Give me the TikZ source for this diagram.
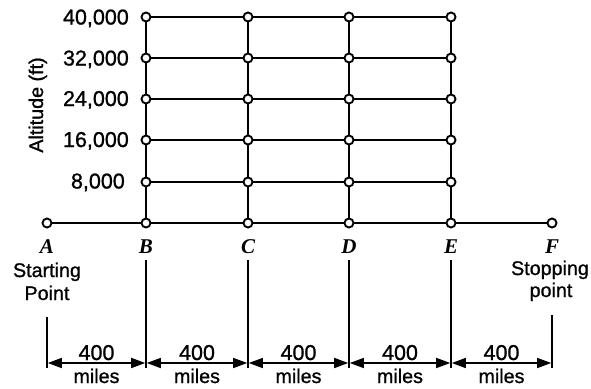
\documentclass[tikz,border=0pt]{standalone}
\usepackage{fontspec}
\setmainfont[FakeBold=1]{Liberation Sans}
\newfontfamily\letterfont{Liberation Serif}
\usetikzlibrary{arrows.meta,calc}
\tikzset{
  dot/.style={circle,draw,fill=white,line width=1.9pt,inner sep=0pt,minimum size=9pt},
  grid/.style={line width=2.3pt},
  tick/.style={line width=1.5pt},
  dim/.style={line width=1.5pt,{Triangle[length=14pt,width=10pt]}-{Triangle[length=14pt,width=10pt]},shorten <=0.8pt,shorten >=0.8pt},
  txt/.style={font=\fontsize{19.7}{22}\selectfont,inner sep=0pt,anchor=base},
  num/.style={font=\fontsize{21.5}{22}\selectfont,inner sep=0pt,anchor=base},
  let/.style={font=\fontsize{21}{22}\selectfont\letterfont\bfseries\itshape,inner sep=0pt,anchor=base}
}
\begin{document}
\begin{tikzpicture}[x=1pt,y=-1pt]
\useasboundingbox (0,0) rectangle (591,388);
% ground nodes
\foreach \n/\x in {A/47,B/146,C/248,D/349,E/451,F/552}{
  \node[dot] (\n0) at (\x,223) {};
}
% altitude nodes
\foreach \n/\x in {B/146,C/248,D/349,E/451}{
  \foreach \k/\y in {1/182,2/140,3/99,4/58,5/17}{
    \node[dot] (\n\k) at (\x,\y) {};
  }
}
% ground line
\draw[grid] (A0)--(B0) (B0)--(C0) (C0)--(D0) (D0)--(E0) (E0)--(F0);
% vertical grid
\foreach \n in {B,C,D,E}{
  \draw[grid] (\n0)--(\n1) (\n1)--(\n2) (\n2)--(\n3) (\n3)--(\n4) (\n4)--(\n5);
}
% horizontal grid
\foreach \k in {1,...,5}{
  \draw[grid] (B\k)--(C\k) (C\k)--(D\k) (D\k)--(E\k);
}
% altitude labels
\node[num,anchor=base east] (l5) at (129,24.5) {40,000};
\node[num,anchor=base east] (l4) at (129,65.5) {32,000};
\node[num,anchor=base east] (l3) at (129,106) {24,000};
\node[num,anchor=base east] (l2) at (129,147) {16,000};
\node[num,anchor=base east] (l1) at (125,188.5) {8,000};
\node[txt,rotate=90] (alt) at (43,105) {Altitude (ft)};
% point letters
\foreach \n/\x in {A/47,B/146,C/248,D/349,E/451,F/552}{
  \node[let] (L\n) at (\x,253) {\n};
}
\node[txt] (s1) at (47,277) {Starting};
\node[txt] (s2) at (47,300) {Point};
\node[txt] (p1) at (550,275) {Stopping};
\node[txt] (p2) at (551,297) {point};
% ticks
\coordinate (tA) at (47,317); \coordinate (bA) at (47,368);
\coordinate (tF) at (552,315); \coordinate (bF) at (552,368);
\foreach \n/\x in {B/146,C/248,D/349,E/451}{
  \coordinate (t\n) at (\x,260); \coordinate (b\n) at (\x,368);
}
\foreach \n in {A,B,C,D,E,F}{ \draw[tick] (t\n)--(b\n); }
% dimension arrows
\foreach \n/\x in {A/47,B/146,C/248,D/349,E/451,F/552}{
  \coordinate (m\n) at (\x,363);
}
\foreach \a/\b in {A/B,B/C,C/D,D/E,E/F}{
  \draw[dim] (m\a)--(m\b);
  \path ($ (m\a)!0.5!(m\b) $) coordinate (c\a);
  \node[num] (n\a) at ([yshift=3pt]c\a) {400};
  \node[txt] (u\a) at ([yshift=-20pt]c\a) {miles};
}
\end{tikzpicture}
\end{document}
